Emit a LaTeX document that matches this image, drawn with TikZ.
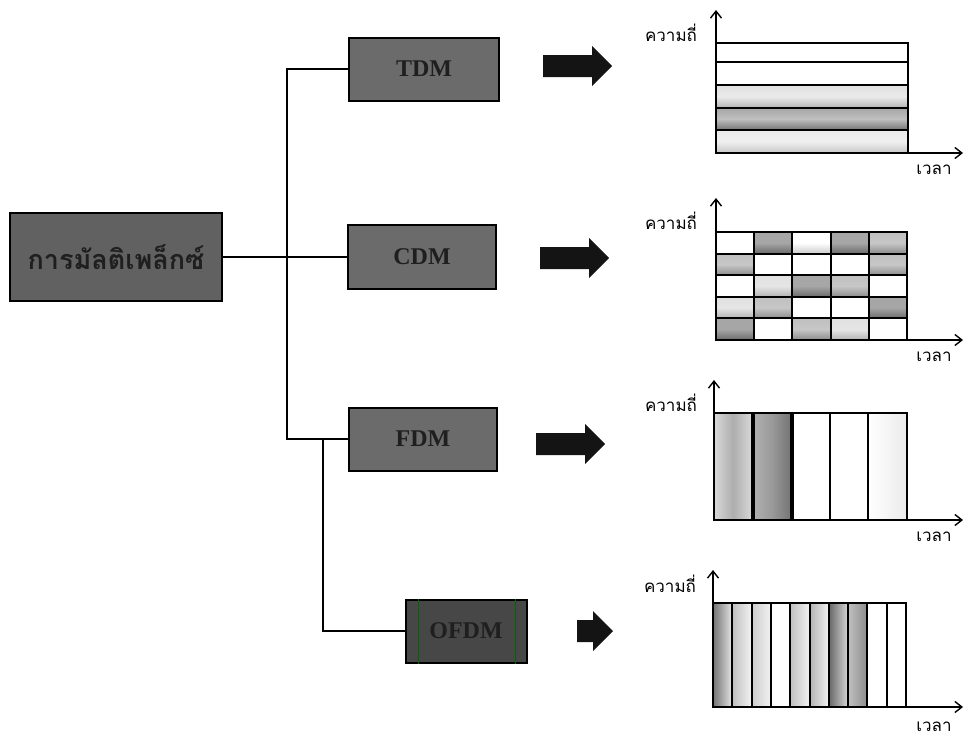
\documentclass[tikz,border=0pt]{standalone}
\usepackage{fontspec}
\setmainfont{Liberation Serif}
\newfontfamily\thaifont[Script=Thai]{Loma}
\usetikzlibrary{arrows.meta}

\tikzset{
  mbox/.style={draw=black, line width=2pt, fill=#1, text=black!88,
    font=\bfseries\fontsize{24}{28}\selectfont, inner sep=0pt},
  mbox/.default={black!58},
  link/.style={draw=black, line width=1.6pt},
  blockarrow/.style={fill=black!92},
  frame/.style={draw=black, line width=2.4pt},
  cell/.style={draw=black, line width=2pt},
  axis/.style={draw=black, line width=1.4pt, -{Straight Barb[length=7pt,width=11pt,line width=1.4pt]}},
  axlabel/.style={font=\thaifont\fontsize{17}{18}\selectfont, inner sep=0pt},
  lg/.style={top color=black!12, bottom color=black!30, middle color=black!10},
  mg/.style={top color=black!25, bottom color=black!45, middle color=black!22},
  dg/.style={top color=black!35, bottom color=black!58, middle color=black!35},
}

\begin{document}
\begin{tikzpicture}[x=1pt,y=-1pt]
\useasboundingbox[fill=white] (0,0) rectangle (968,744);

% ---- boxes ----
\node[mbox=black!62, minimum width=212pt, minimum height=88pt,
      font=\thaifont\bfseries\fontsize{27}{30}\selectfont] (main) at (116,257) {การมัลติเพล็กซ์};
\node[mbox, minimum width=150pt, minimum height=63pt] (tdm) at (424,69) {TDM};
\node[mbox, minimum width=148pt, minimum height=64pt] (cdm) at (422,257) {CDM};
\node[mbox, minimum width=148pt, minimum height=63pt] (fdm) at (423,439) {FDM};
\node[mbox=black!72, minimum width=121pt, minimum height=63pt] (ofdm) at (466,631) {OFDM};
% faint scan streaks on the OFDM box
\draw[green!40!black, line width=0.6pt] ([xshift=14pt]ofdm.north west) -- ([xshift=14pt]ofdm.south west);
\draw[green!40!black, line width=0.6pt] ([xshift=-12pt]ofdm.north east) -- ([xshift=-12pt]ofdm.south east);

% ---- connectors ----
\coordinate (bus) at (287,257);
\coordinate (tap) at (323,439);
\draw[link] (main.east) -- (cdm.west);
\draw[link] (tdm.west) -| (bus) |- (fdm.west);
\draw[link] (tap) |- (ofdm.west);

% ---- block arrows (shaft 22, head 40 wide, 20 long) ----
\foreach \ax/\ay/\len in {543/66/69, 540/258/69, 536/444/69, 577/631/36}{
  \fill[blockarrow, shift={(\ax,\ay)}]
    (0,-11) -- ({\len-20},-11) -- ({\len-20},-20) -- (\len,0)
    -- ({\len-20},20) -- ({\len-20},11) -- (0,11) -- cycle;
}

% ---- TDM chart: horizontal bands ----
\shade[top color=black!12, bottom color=black!30, middle color=black!8] (716,85) rectangle (908,108);
\shade[top color=black!35, bottom color=black!55, middle color=black!25] (716,108) rectangle (908,130);
\shade[top color=black!8, bottom color=black!22, middle color=black!6] (716,130) rectangle (908,153);
\foreach \y in {62,85,108,130} \draw[cell] (716,\y) -- (908,\y);
\draw[frame] (716,43) rectangle (908,153);
\draw[axis] (716,153) -- (716,10);
\draw[axis] (716,153) -- (963,153);
\node[axlabel, anchor=south] (f1) at (671,42) {ความถี่};
\node[axlabel, anchor=north] (t1) at (934,165) {เวลา};

% ---- CDM chart: time/frequency grid ----
\def\shadecell#1#2#3{%
  \shade[#3] ({716+(#1-1)*38.2},{232+(#2-1)*21.6}) rectangle ++(38.2,21.6);}
\shadecell{2}{1}{dg}\shadecell{3}{1}{top color=white, bottom color=black!20, middle color=white}\shadecell{4}{1}{dg}\shadecell{5}{1}{mg}
\shadecell{1}{2}{mg}\shadecell{5}{2}{mg}
\shadecell{2}{3}{lg}\shadecell{3}{3}{dg}\shadecell{4}{3}{mg}
\shadecell{1}{4}{lg}\shadecell{2}{4}{mg}\shadecell{5}{4}{dg}
\shadecell{1}{5}{dg}\shadecell{3}{5}{mg}\shadecell{4}{5}{lg}
\foreach \i in {1,...,4} \draw[cell] ({716+\i*38.2},232) -- ({716+\i*38.2},340);
\foreach \j in {1,...,4} \draw[cell] (716,{232+\j*21.6}) -- (907,{232+\j*21.6});
\draw[frame] (716,232) rectangle (907,340);
\draw[axis] (716,340) -- (716,198);
\draw[axis] (716,340) -- (963,340);
\node[axlabel, anchor=south] (f2) at (671,230) {ความถี่};
\node[axlabel, anchor=north] (t2) at (934,352) {เวลา};

% ---- FDM chart: vertical bands ----
\shade[left color=black!15, right color=black!15, middle color=black!32] (714,413) rectangle (752,520);
\shade[left color=black!30, right color=black!55, middle color=black!40] (752,413) rectangle (792,520);
\shade[left color=white, right color=black!8] (868,413) rectangle (907,520);
\draw[line width=3.6pt] (753,413) -- (753,520);
\draw[line width=3.6pt] (792,413) -- (792,520);
\draw[cell] (830,413) -- (830,520);
\draw[cell] (868,413) -- (868,520);
\draw[frame] (714,413) rectangle (907,520);
\draw[axis] (714,520) -- (714,380);
\draw[axis] (714,520) -- (963,520);
\node[axlabel, anchor=south] (f3) at (671,412) {ความถี่};
\node[axlabel, anchor=north] (t3) at (934,532) {เวลา};

% ---- OFDM chart: narrow overlapping bands ----
\def\band#1#2#3{%
  \shade[left color=#2, right color=#3] (#1,603) rectangle ++(19.3,104);}
\band{713}{black!55}{black!10}
\band{732.3}{black!25}{black!5}
\band{751.6}{black!20}{black!5}
\band{790.2}{black!25}{black!5}
\band{809.5}{black!30}{black!5}
\band{828.8}{black!60}{black!15}
\band{848.1}{black!25}{black!45}
\foreach \i in {1,...,9} \draw[cell] ({713+\i*19.3},603) -- ({713+\i*19.3},707);
\draw[frame] (713,603) rectangle (906,707);
\draw[axis] (713,707) -- (713,570);
\draw[axis] (713,707) -- (963,707);
\node[axlabel, anchor=south] (f4) at (670,593) {ความถี่};
\node[axlabel, anchor=north] (t4) at (934,722) {เวลา};
\end{tikzpicture}
\end{document}
